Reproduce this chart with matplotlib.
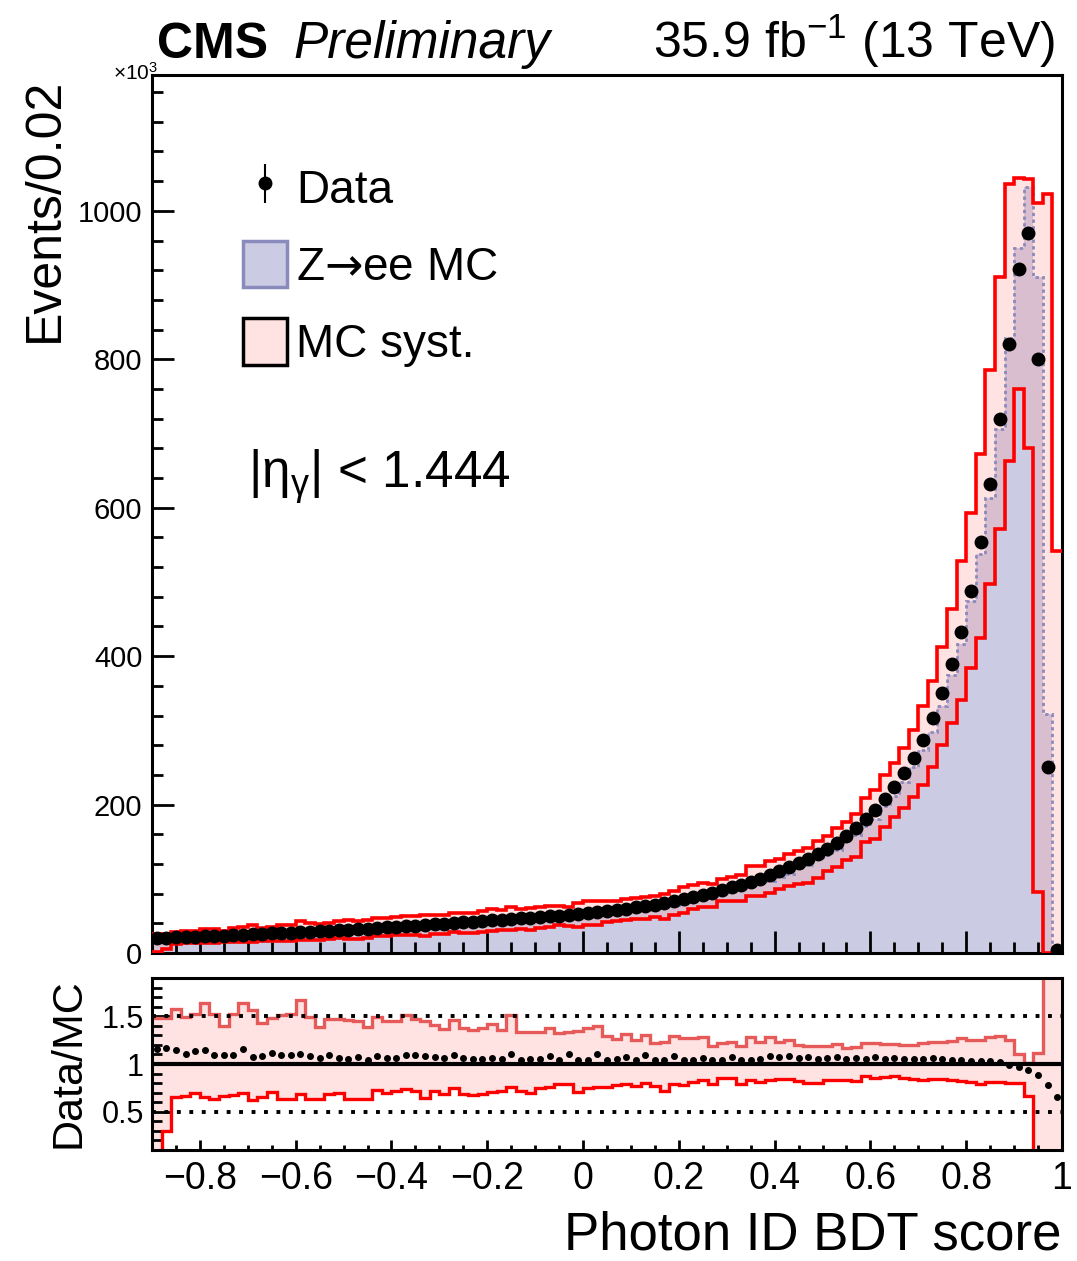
import numpy as np
import matplotlib.pyplot as plt
from matplotlib.patches import Patch
from matplotlib.ticker import MultipleLocator
from matplotlib.container import ErrorbarContainer
from matplotlib.legend_handler import HandlerErrorbar

plt.rcParams['font.family'] = ['Liberation Sans', 'DejaVu Sans']
plt.rcParams['mathtext.fontset'] = 'custom'
plt.rcParams['mathtext.rm'] = 'Liberation Sans'
plt.rcParams['mathtext.it'] = 'Liberation Sans:italic'
plt.rcParams['mathtext.bf'] = 'Liberation Sans:bold'
plt.rcParams['mathtext.sf'] = 'DejaVu Sans'

# binning: 95 bins of 0.02 from -0.9 to 1.0
bin_lo, bin_hi, n_bins = -0.9, 1.0, 95

# data, events per bin (x10^3)
data = [20.0, 20.5, 21.0, 21.5, 22.0, 22.5, 23.0, 23.5, 24.0, 24.8,
        25.3, 25.8, 26.5, 27.0, 27.6, 28.3, 28.9, 29.5, 30.2, 30.9,
        31.6, 32.3, 33.0, 33.8, 34.6, 35.4, 36.2, 37.0, 37.8, 38.6,
        39.5, 40.3, 41.2, 42.0, 42.9, 43.8, 44.7, 45.6, 46.5, 47.4,
        48.3, 49.2, 50.2, 51.2, 52.2,
        53.5, 55.0, 56.5, 58.0, 59.7, 61.4, 63.2, 65.0, 67.0, 69.5,
        72.5, 75.5, 78.5, 81.5, 85.0, 88.5, 92.0, 95.5, 99.5, 104.5,
        110.0, 115.5, 121.0, 127.0, 133.5, 140.5, 148.5, 158.0, 168.0, 180.0,
        193.0, 208.0, 224.0, 242.0, 263.0, 287.0, 316.0, 350.0, 389.0, 433.0,
        488.0, 554.0, 632.0, 720.0, 821.0, 921.0, 970.0, 801.0, 251.0, 4.0]

# data / MC ratio
data_mc = [1.16, 1.17, 1.15, 1.10, 1.14, 1.15, 1.09, 1.09, 1.09, 1.16,
           1.07, 1.08, 1.12, 1.09, 1.095, 1.105, 1.08, 1.06, 1.09, 1.06,
           1.05, 1.07, 1.04, 1.08, 1.06, 1.06, 1.09, 1.09, 1.08, 1.075,
           1.06, 1.09, 1.06, 1.05, 1.05, 1.06, 1.05, 1.10, 1.04, 1.05,
           1.05, 1.08, 1.04, 1.10, 1.04, 1.04, 1.10, 1.04, 1.05, 1.07,
           1.04, 1.09, 1.04, 1.04, 1.08, 1.04, 1.04, 1.06, 1.04, 1.04,
           1.07, 1.04, 1.04, 1.05, 1.08, 1.07, 1.08, 1.06, 1.07, 1.05,
           1.06, 1.07, 1.05, 1.06, 1.05, 1.07, 1.05, 1.06, 1.05, 1.05,
           1.05, 1.06, 1.05, 1.04, 1.04, 1.03, 1.03, 1.03, 1.02, 0.99,
           0.97, 0.94, 0.88, 0.78, 0.65]

# MC syst. band, relative to MC
syst_up = [1.48, 1.48, 1.58, 1.49, 1.52, 1.64, 1.52, 1.40, 1.52, 1.64,
           1.57, 1.43, 1.48, 1.51, 1.52, 1.67, 1.49, 1.39, 1.47, 1.47,
           1.46, 1.45, 1.39, 1.49, 1.45, 1.45, 1.51, 1.47, 1.45, 1.41,
           1.37, 1.46, 1.375, 1.36, 1.38, 1.42, 1.36, 1.51, 1.34, 1.34,
           1.34, 1.38, 1.32, 1.34, 1.35, 1.375, 1.40, 1.29, 1.26, 1.31,
           1.25, 1.305, 1.22, 1.23, 1.29, 1.27, 1.27, 1.28, 1.19, 1.22,
           1.23, 1.19, 1.28, 1.23, 1.28, 1.235, 1.25, 1.20, 1.19, 1.19,
           1.19, 1.21, 1.17, 1.18, 1.22, 1.22, 1.21, 1.21, 1.20, 1.20,
           1.22, 1.23, 1.235, 1.24, 1.27, 1.25, 1.25, 1.28, 1.29, 1.25,
           1.10, 1.01, 1.11, 3.18, 88.0]
syst_dn = [0.05, 0.30, 0.656, 0.67, 0.70, 0.656, 0.635, 0.67, 0.68, 0.70,
           0.62, 0.656, 0.71, 0.635, 0.63, 0.69, 0.635, 0.63, 0.69, 0.70,
           0.635, 0.63, 0.635, 0.73, 0.70, 0.72, 0.74, 0.715, 0.64, 0.715,
           0.69, 0.75, 0.69, 0.674, 0.69, 0.71, 0.715, 0.76, 0.715, 0.70,
           0.744, 0.755, 0.786, 0.795, 0.71, 0.744, 0.76, 0.76, 0.78, 0.786,
           0.77, 0.80, 0.775, 0.715, 0.786, 0.78, 0.81, 0.83, 0.795, 0.85,
           0.85, 0.786, 0.83, 0.81, 0.83, 0.84, 0.84, 0.82, 0.80, 0.80,
           0.83, 0.835, 0.83, 0.82, 0.87, 0.85, 0.86, 0.87, 0.85, 0.84,
           0.83, 0.84, 0.84, 0.83, 0.82, 0.81, 0.79, 0.81, 0.81, 0.80,
           0.80, 0.66, 0.09, 0.0, 0.0]

x_ticks = [-0.8, -0.6, -0.4, -0.2, 0.0, 0.2, 0.4, 0.6, 0.8, 1.0]
x_tick_labels = ['\u22120.8', '\u22120.6', '\u22120.4', '\u22120.2', '0',
                 '0.2', '0.4', '0.6', '0.8', '1']
y_ticks = [0, 200, 400, 600, 800, 1000]
r_ticks = [0.5, 1.0, 1.5]
r_tick_labels = ['0.5', '1', '1.5']

edges = np.linspace(bin_lo, bin_hi, n_bins + 1)
centers = 0.5 * (edges[:-1] + edges[1:])
data = np.array(data)
data_mc = np.array(data_mc)
syst_up = np.array(syst_up)
syst_dn = np.array(syst_dn)
mc = data / data_mc
err = np.sqrt(data * 1000.0) / 1000.0

lavender = '#cbcce4'
mc_edge = '#8a8abd'
pink = '#ff9c9c'

W, H = 1077, 1261
fig = plt.figure(figsize=(W / 100, H / 100), dpi=100)
ax = fig.add_axes([152 / W, 1 - 953 / H, 910 / W, 878 / H])
rax = fig.add_axes([152 / W, 1 - 1150 / H, 910 / W, 172 / H])

# main panel
ax.stairs(mc, edges, fill=True, color=lavender, lw=0, zorder=1)
ax.stairs(mc * syst_up, edges, baseline=mc * syst_dn, fill=True,
          color=pink, alpha=0.28, lw=0, zorder=2)
ax.stairs(mc, edges, baseline=None, color=mc_edge, lw=2,
          ls=(0, (1.2, 1.2)), zorder=3)
ax.stairs(mc * syst_up, edges, baseline=None, color='red', lw=2.6, zorder=4)
ax.stairs(mc * syst_dn, edges, baseline=None, color='red', lw=2.6, zorder=4)
h_data = ax.errorbar(centers, data, yerr=err, fmt='o', color='black',
                     ms=9, elinewidth=1.5, capsize=0, zorder=5)

ax.set_xlim(bin_lo, bin_hi)
ax.set_ylim(0, 1183)
ax.set_xticks(x_ticks)
ax.set_xticklabels([])
ax.set_yticks(y_ticks)
ax.set_yticklabels([str(v) for v in y_ticks])
ax.xaxis.set_minor_locator(MultipleLocator(0.05))
ax.yaxis.set_minor_locator(MultipleLocator(40))
ax.tick_params(which='both', direction='in', top=False, right=False, width=2)
ax.tick_params(which='major', length=16, labelsize=21, pad=7)
ax.tick_params(which='minor', length=8)

handles = [h_data,
           Patch(facecolor=lavender, edgecolor=mc_edge, lw=2.5),
           Patch(facecolor='#ffe3e3', edgecolor='black', lw=2.5)]
labels = ['Data', 'Z$\\mathsf{\u2192}$ee MC', 'MC syst.']
ax.legend(handles, labels, loc='upper left',
          bbox_to_anchor=(243 / W, 1 - 164 / H), bbox_transform=fig.transFigure,
          frameon=False, fontsize=33, handlelength=0.96, handleheight=1.18,
          handletextpad=0.2, labelspacing=0.62, borderpad=0, borderaxespad=0,
          handler_map={ErrorbarContainer: HandlerErrorbar(xerr_size=0.42)})

fig.text(248 / W, 1 - 488 / H, r'$\mathregular{|η_{γ}|}$ < 1.444',
         fontsize=37, va='baseline', ha='left')

# ratio panel
rax.stairs(syst_up, edges, baseline=syst_dn, fill=True,
           color=pink, alpha=0.28, lw=0, zorder=1)
rax.stairs(syst_up, edges, baseline=None, color='#e65a5a', lw=2.4, zorder=2)
rax.stairs(syst_dn, edges, baseline=None, color='red', lw=2.4, zorder=2)
rax.axhline(1.0, color='black', lw=3, zorder=3)
for lvl in (0.5, 1.5):
    rax.axhline(lvl, color='black', lw=2.8, ls=(0, (1, 2.2)), zorder=3)
rax.errorbar(centers, data_mc, yerr=err / mc, fmt='o', color='black',
             ms=4, elinewidth=1, capsize=0, zorder=4)

rax.set_xlim(bin_lo, bin_hi)
rax.set_ylim(0.1, 1.9)
rax.set_xticks(x_ticks)
rax.set_xticklabels(x_tick_labels)
rax.set_yticks(r_ticks)
rax.set_yticklabels(r_tick_labels)
rax.xaxis.set_minor_locator(MultipleLocator(0.05))
rax.yaxis.set_minor_locator(MultipleLocator(0.1))
rax.tick_params(which='both', direction='in', top=False, right=False, width=2)
rax.tick_params(axis='x', which='major', length=7, labelsize=27, pad=8)
rax.tick_params(axis='x', which='minor', length=3.5)
rax.tick_params(axis='y', which='major', length=14, labelsize=22, pad=6)
rax.tick_params(axis='y', which='minor', length=7)

for a in (ax, rax):
    for sp in a.spines.values():
        sp.set_linewidth(2.2)

# labels
fig.text(157 / W, 1 - 58 / H, 'CMS', fontsize=36, fontweight='bold',
         ha='left', va='baseline')
fig.text(293 / W, 1 - 58 / H, 'Preliminary', fontsize=37, style='italic',
         ha='left', va='baseline')
fig.text(1055 / W, 1 - 58 / H, r'35.9 fb$^{-1}$ (13 TeV)', fontsize=36,
         ha='right', va='baseline')
fig.text(158 / W, 1 - 80 / H, '\u00d710$^{3}$', fontsize=15,
         ha='right', va='baseline')
fig.text(58 / W, 1 - 78 / H, 'Events/0.02', fontsize=36, rotation=90,
         rotation_mode='anchor', ha='right', va='baseline')
fig.text(80 / W, 1 - 978 / H, 'Data/MC', fontsize=31, rotation=90,
         rotation_mode='anchor', ha='right', va='baseline')
fig.text(1062 / W, 1 - 1249 / H, 'Photon ID BDT score', fontsize=38,
         ha='right', va='baseline')

fig.savefig('out.png', dpi=100)
